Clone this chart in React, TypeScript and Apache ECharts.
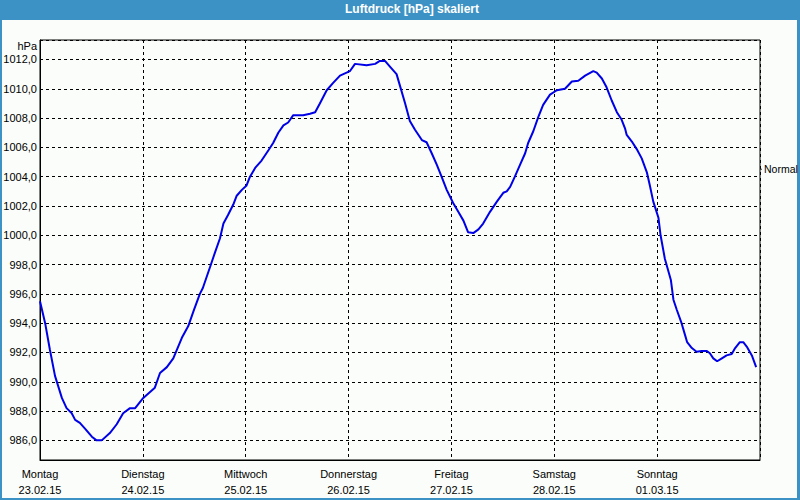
import React, { useEffect, useRef } from "react";
import * as echarts from "echarts";

// Time in hours since Monday 23.02.15 00:00
const hours: number[] = [
  0, 1.2, 2.3, 3.5, 5.1, 6.2, 7.4, 8.2, 9.3, 10.5, 12.1, 13.2, 14.4, 16.3, 17.9, 19.4, 21, 22.2,
  24.1, 26.8, 28, 29.6, 31.1, 33.1, 34.6, 35.8, 37.3, 38.0, 39.7, 40.8, 42, 42.8, 43.9, 45.1, 45.9,
  47.1, 48.2, 49, 50.2, 51.7, 53.3, 54.4, 55.6, 56.8, 57.9, 59.1, 61.4, 63, 64.2, 65.3, 66.9, 68.4,
  70, 72.3, 73.5, 76.2, 78.2, 79.3, 80.5, 81.7, 83.2, 84, 85.2, 86.3, 87.5, 89.1, 90.2, 91.4, 92.6,
  93.7, 94.9, 96.4, 97.6, 98.8, 99.9, 101.1, 102.3, 103.4, 105, 106.6, 108.1, 108.9, 109.7, 110.8,
  112, 113.2, 113.9, 115.1, 116.3, 117.4, 119, 120.6, 122.5, 124.1, 125.6, 127.2, 129.1, 129.9,
  131.1, 132.2, 133.4, 134.6, 135.7, 136.5, 136.9, 138.1, 139.2, 140.4, 141.6, 142.3, 143.1, 144.3,
  144.8, 145.8, 147.2, 147.8, 148.6, 149.7, 150.5, 151.0, 152.1, 153.2, 154.4, 155.6, 156.3, 157.1,
  158.0, 159.1, 160.2, 161.4, 162.2, 163.3, 164.1, 164.9, 166.1, 167.1,
];

// Air pressure in hPa
const pressure: number[] = [
  995.5, 994.0, 992.2, 990.4, 988.9, 988.2, 987.85, 987.4, 987.2, 986.8, 986.25, 986.0, 986.0, 986.5,
  987.1, 987.85, 988.2, 988.2, 988.9, 989.6, 990.6, 991.0, 991.6, 993.0, 993.8, 994.8, 996.0, 996.4,
  997.85, 998.8, 999.8, 1000.8, 1001.4, 1002.1, 1002.7, 1003.1, 1003.4, 1004.0, 1004.6, 1005.1,
  1005.8, 1006.3, 1007.0, 1007.5, 1007.7, 1008.2, 1008.2, 1008.3, 1008.4, 1009.0, 1009.9, 1010.4,
  1010.9, 1011.2, 1011.7, 1011.6, 1011.7, 1011.9, 1011.9, 1011.5, 1011.0, 1010.2, 1009.0, 1007.8,
  1007.2, 1006.5, 1006.35, 1005.6, 1004.8, 1004.0, 1003.1, 1002.2, 1001.6, 1001.0, 1000.2, 1000.15,
  1000.4, 1000.8, 1001.6, 1002.3, 1002.9, 1003.0, 1003.3, 1004.0, 1004.8, 1005.6, 1006.3, 1007.1,
  1008.1, 1008.9, 1009.6, 1009.9, 1010.0, 1010.5, 1010.55, 1010.9, 1011.2, 1011.1, 1010.7, 1010.1,
  1009.2, 1008.4, 1007.9, 1007.3, 1006.85, 1006.4, 1005.9, 1005.25, 1004.3, 1003.4, 1002.3, 1001.2,
  1000.0, 998.4, 996.95, 995.6, 994.9, 994.0, 993.2, 992.7, 992.3, 992.05, 992.1, 992.1, 991.95,
  991.6, 991.4, 991.6, 991.8, 991.9, 992.3, 992.7, 992.7, 992.4, 991.8, 991.0,
];

const dayNames: string[] = ["Montag", "Dienstag", "Mittwoch", "Donnerstag", "Freitag", "Samstag", "Sonntag"];
const dayDates: string[] = ["23.02.15", "24.02.15", "25.02.15", "26.02.15", "27.02.15", "28.02.15", "01.03.15"];

const normalValue = 1004.5;
const yMin = 984.66;
const yMax = 1013.33;

export default function App() {
  const ref = useRef<HTMLDivElement>(null);

  useEffect(() => {
    if (!ref.current) return;
    const chart = echarts.init(ref.current, null, { renderer: "svg" });
    const data = hours.map((h, i) => [h, pressure[i]]);
    const font = "Liberation Sans";
    chart.setOption({
      animation: false,
      backgroundColor: "#3c92c4",
      textStyle: { fontFamily: font },
      title: {
        text: "Luftdruck [hPa] skaliert",
        left: 345,
        top: 3,
        padding: 0,
        textStyle: { color: "#ffffff", fontWeight: "bold", fontSize: 12, fontFamily: font },
      },
      graphic: [
        {
          type: "rect",
          z: -10,
          shape: { x: 2, y: 20, width: 795, height: 478 },
          style: { fill: "#fafdfa" },
          silent: true,
        },
      ],
      grid: {
        left: 40,
        right: 40,
        top: 40,
        bottom: 40,
        show: true,
        borderColor: "#000",
        borderWidth: 1,
        backgroundColor: "transparent",
      },
      xAxis: {
        type: "value",
        min: 0,
        max: 168,
        interval: 24,
        axisLine: { show: true, lineStyle: { color: "#000", width: 1 } },
        axisTick: { show: false },
        splitLine: { show: true, lineStyle: { color: "#000", type: [3, 3], width: 1 } },
        axisLabel: {
          color: "#000",
          fontSize: 11,
          lineHeight: 16,
          margin: 6,
          fontFamily: font,
          formatter: (v: number) => {
            const i = Math.round(v / 24);
            if (i < 0 || i >= dayNames.length) return "";
            return dayNames[i] + "\n" + dayDates[i];
          },
        },
      },
      yAxis: {
        type: "value",
        min: yMin,
        max: yMax,
        splitNumber: 14,
        minInterval: 2,
        maxInterval: 2,
        name: "hPa",
        nameLocation: "end",
        nameGap: -6,
        nameTextStyle: { color: "#000", fontSize: 11, align: "right", verticalAlign: "middle", padding: [0, 3, 0, 0], fontFamily: font },
        axisLine: { show: true, lineStyle: { color: "#000", width: 1 } },
        axisTick: { show: false },
        splitLine: { show: true, lineStyle: { color: "#000", type: [3, 3], width: 1 } },
        axisLabel: {
          color: "#000",
          fontSize: 11,
          margin: 3,
          fontFamily: font,
          showMinLabel: false,
          showMaxLabel: false,
          formatter: (v: number) => v.toFixed(1).replace(".", ","),
        },
      },
      series: [
        {
          type: "line",
          data,
          showSymbol: false,
          symbol: "none",
          clip: false,
          lineStyle: { color: "#0000e6", width: 2 },
          markLine: {
            silent: true,
            symbol: ["none", "none"],
            lineStyle: { color: "rgba(0,0,0,0)", width: 0, opacity: 1 },
            label: {
              show: true,
              position: "end",
              distance: 0,
              opacity: 1,
              color: "#000",
              formatter: "{t|}{n|Normal}",
              rich: {
                t: { width: 2, height: 1, backgroundColor: "#333" },
                n: { color: "#000", fontSize: 10.5, fontFamily: font, padding: [0, 0, 0, 2] },
              },
            },
            data: [{ yAxis: normalValue }],
          },
        },
      ],
    });
    return () => chart.dispose();
  }, []);

  return (
    <div
      ref={ref}
      style={{ position: "fixed", left: 0, top: 0, width: 800, height: 500 }}
    />
  );
}
